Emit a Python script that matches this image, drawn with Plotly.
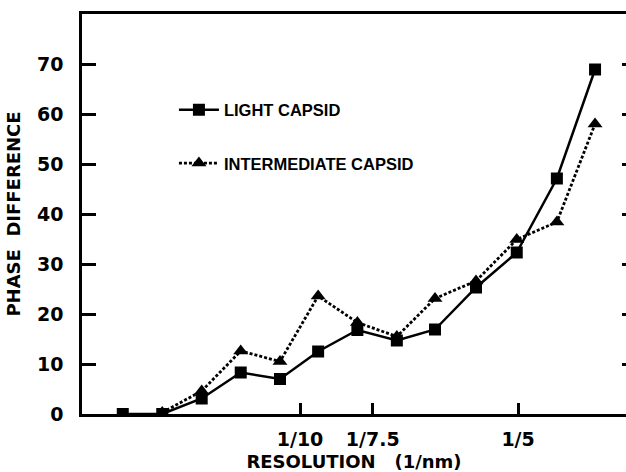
import plotly.graph_objects as go

# Resolution shells (1/nm)
light_x = [0.0187, 0.0368, 0.0549, 0.0728, 0.0908, 0.1083, 0.1263, 0.1444, 0.1619, 0.1807, 0.1994, 0.2178, 0.2353]
light_y = [0.0, 0.0, 3.1, 8.3, 7.0, 12.5, 16.8, 14.7, 16.9, 25.3, 32.3, 47.1, 68.9]

inter_x = [0.0368, 0.0549, 0.0728, 0.0908, 0.1083, 0.1263, 0.1444, 0.1619, 0.1807, 0.1994, 0.2178, 0.2353]
inter_y = [0.3, 4.6, 12.6, 10.5, 23.6, 18.3, 15.5, 23.1, 26.6, 34.9, 38.4, 58.0]

x_tickvals = [0.1, 1 / 7.5, 0.2]
x_ticktext = ["1/10", "1/7.5", "1/5"]
y_tickvals = [0, 10, 20, 30, 40, 50, 60, 70]

BOLD = "DejaVu Sans"

fig = go.Figure()
fig.add_trace(go.Scatter(
    x=light_x, y=light_y, mode="lines+markers", name="LIGHT CAPSID",
    line=dict(color="black", width=2.5),
    marker=dict(symbol="square", size=12, color="black"),
    legendgroup="a",
))
fig.add_trace(go.Scatter(
    x=inter_x, y=inter_y, mode="lines+markers", name="INTERMEDIATE CAPSID",
    line=dict(color="black", width=2.8, dash="3px,2px"),
    marker=dict(symbol="triangle-up", size=13, color="black"),
    legendgroup="b",
))
fig.add_trace(go.Scatter(x=[], y=[], yaxis="y2", showlegend=False, hoverinfo="skip"))

fig.update_layout(
    width=626, height=472,
    margin=dict(l=82, r=0, t=14, b=58),
    paper_bgcolor="white", plot_bgcolor="white",
    showlegend=True,
    legend=dict(
        x=0.169, y=0.694, xanchor="left", yanchor="middle",
        font=dict(family="Liberation Sans", size=16.5, color="black", weight="bold"),
        bgcolor="rgba(0,0,0,0)", tracegroupgap=29, traceorder="grouped",
        itemwidth=40,
    ),
    xaxis=dict(
        range=[0, 0.2495], showgrid=False, zeroline=False,
        showline=True, linecolor="black", linewidth=2.5, mirror=True,
        ticks="inside", ticklen=11, tickwidth=2.5, tickcolor="black",
        tickvals=x_tickvals, ticktext=x_ticktext,
        tickfont=dict(family=BOLD, size=19, color="black", weight="bold"),
        ticklabelstandoff=6,
        title=dict(text="RESOLUTION   (1/nm)", standoff=9,
                   font=dict(family=BOLD, size=18, color="black", weight="bold")),
        automargin=False,
    ),
    yaxis=dict(
        range=[0, 80], showgrid=False, zeroline=False,
        showline=True, linecolor="black", linewidth=2.5,
        ticks="inside", ticklen=14, tickwidth=2.5, tickcolor="black",
        tickvals=y_tickvals,
        tickfont=dict(family=BOLD, size=19, color="black", weight="bold"),
        ticklabelstandoff=12,
        title=dict(text="PHASE  DIFFERENCE", standoff=12,
                   font=dict(family=BOLD, size=18, color="black", weight="bold")),
        automargin=False,
    ),
    yaxis2=dict(
        range=[0, 80], overlaying="y", side="right", showgrid=False, zeroline=False,
        showline=False, ticks="inside", ticklen=4, tickwidth=2.5, tickcolor="black",
        tickvals=y_tickvals, showticklabels=False,
    ),
)

fig.write_html(
    "out.html",
    config={"displayModeBar": False},
    post_script="document.body.style.margin='0';document.body.style.overflow='hidden';",
)
